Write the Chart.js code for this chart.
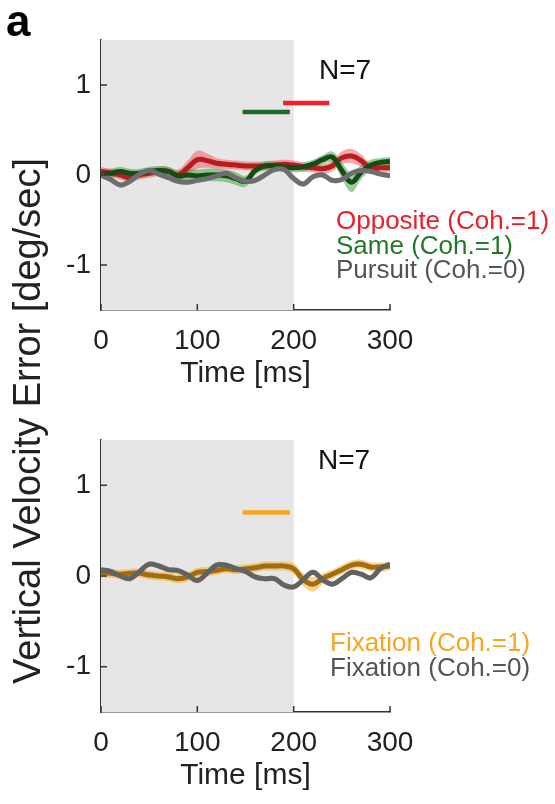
<!DOCTYPE html>
<html lang="en">
<head>
    <meta charset="UTF-8">
    <title>Vertical Velocity Error</title>
    <style>
        body {
            margin: 0;
            background-color: #fff;
            font-family: "Liberation Sans", Arial, sans-serif;
        }
        .page {
            position: relative;
            width: 555px;
            height: 804px;
            overflow: hidden;
        }
        .panel {
            position: absolute;
            left: 0;
            width: 555px;
        }
        .txt {
            position: absolute;
            white-space: nowrap;
            font-size: 26px;
            line-height: 1;
        }
        #yTitle {
            position: absolute;
            left: 27px;
            top: 421px;
            font-size: 38px;
            color: #222;
            white-space: nowrap;
            transform: translate(-50%, -50%) rotate(-90deg);
        }
    </style>
</head>
<body>
    <div class="page">
        <div class="panel" style="top:0;height:400px"><canvas id="topChart" width="555" height="400"></canvas></div>
        <div class="panel" style="top:400px;height:404px"><canvas id="bottomChart" width="555" height="404"></canvas></div>

        <div class="txt" style="left:6px;top:-1px;font-size:44px;font-weight:bold;color:#000">a</div>
        <div id="yTitle">Vertical Velocity Error [deg/sec]</div>

        <div class="txt" style="left:319px;top:56px;font-size:28px;color:#111">N=7</div>
        <div class="txt" style="left:336px;top:207px;color:#e8202a">Opposite (Coh.=1)</div>
        <div class="txt" style="left:336px;top:232px;color:#23782b">Same (Coh.=1)</div>
        <div class="txt" style="left:336px;top:256px;color:#555">Pursuit (Coh.=0)</div>

        <div class="txt" style="left:318px;top:446px;font-size:28px;color:#111">N=7</div>
        <div class="txt" style="left:330px;top:629px;color:#f5a623">Fixation (Coh.=1)</div>
        <div class="txt" style="left:330px;top:654px;color:#555">Fixation (Coh.=0)</div>
    </div>

    <script src="https://cdn.jsdelivr.net/npm/chart.js"></script>

    <script>
        // time axis (ms), one sample every 10 ms
        const times = [0, 10, 20, 30, 40, 50, 60, 70, 80, 90, 100, 110, 120, 130, 140, 150,
                       160, 170, 180, 190, 200, 210, 220, 230, 240, 250, 260, 270, 280, 290, 300];

        const xTickVals = [0, 100, 200, 300];
        const yTickVals = [-1, 0, 1];
        const shadeRange = [0, 200];

        // top panel: pursuit conditions
        const oppositeMean = [0.04, 0.02, 0.00, -0.03, 0.00, 0.02, 0.04, 0.04, 0.00, 0.08, 0.17,
                              0.16, 0.13, 0.12, 0.11, 0.10, 0.10, 0.10, 0.11, 0.12, 0.11,
                              0.09, 0.08, 0.07, 0.10, 0.19, 0.21, 0.16, 0.07, 0.08, 0.08];
        const oppositeSpread = [0.05, 0.05, 0.05, 0.05, 0.05, 0.05, 0.05, 0.05, 0.06, 0.08, 0.10,
                                0.08, 0.06, 0.05, 0.05, 0.05, 0.05, 0.05, 0.05, 0.05, 0.05,
                                0.05, 0.05, 0.05, 0.06, 0.07, 0.08, 0.07, 0.06, 0.05, 0.05];

        const sameMean = [0.01, 0.02, 0.04, 0.02, 0.02, 0.04, 0.05, 0.04, -0.01, 0.00, -0.01,
                          0.00, 0.00, -0.01, -0.04, -0.07, 0.05, 0.10, 0.10, 0.09, 0.08,
                          0.09, 0.12, 0.17, 0.20, 0.05, -0.08, 0.03, 0.11, 0.14, 0.15];
        const sameSpread = [0.05, 0.05, 0.05, 0.05, 0.05, 0.05, 0.05, 0.05, 0.06, 0.07, 0.07,
                            0.07, 0.07, 0.07, 0.07, 0.06, 0.05, 0.05, 0.05, 0.05, 0.05,
                            0.05, 0.05, 0.05, 0.06, 0.09, 0.11, 0.08, 0.06, 0.05, 0.05];

        const pursuitMean = [0.00, -0.05, -0.11, -0.07, 0.01, 0.05, 0.01, -0.03, -0.07, -0.08, -0.06,
                             -0.04, -0.01, 0.02, -0.03, -0.07, -0.06, 0.00, 0.06, 0.06, -0.04,
                             -0.10, -0.02, 0.00, -0.06, -0.05, 0.02, 0.05, 0.04, 0.01, -0.01];
        const pursuitSpread = [0.03, 0.03, 0.03, 0.03, 0.03, 0.03, 0.03, 0.03, 0.03, 0.03, 0.03,
                               0.03, 0.03, 0.03, 0.03, 0.03, 0.03, 0.03, 0.03, 0.03, 0.03,
                               0.03, 0.03, 0.03, 0.03, 0.03, 0.03, 0.03, 0.03, 0.03, 0.03];

        // bottom panel: fixation conditions
        const fixCoh1Mean = [0.04, 0.03, 0.02, 0.03, 0.03, 0.01, 0.00, -0.01, -0.03, -0.01, 0.04,
                             0.05, 0.06, 0.08, 0.07, 0.08, 0.09, 0.11, 0.11, 0.11, 0.08,
                             -0.04, -0.09, -0.03, 0.02, 0.07, 0.12, 0.13, 0.10, 0.10, 0.11];
        const fixCoh1Spread = [0.05, 0.05, 0.05, 0.05, 0.05, 0.05, 0.05, 0.05, 0.05, 0.05, 0.05,
                               0.05, 0.05, 0.05, 0.05, 0.05, 0.05, 0.05, 0.05, 0.05, 0.06,
                               0.07, 0.08, 0.06, 0.05, 0.05, 0.05, 0.05, 0.05, 0.05, 0.05];

        const fixCoh0Mean = [0.07, 0.05, 0.00, -0.03, 0.05, 0.13, 0.11, 0.07, 0.06, 0.01, -0.05,
                             0.03, 0.12, 0.12, 0.08, 0.05, -0.01, -0.03, -0.03, -0.10, -0.12,
                             -0.04, 0.04, -0.04, -0.09, -0.03, 0.04, 0.02, -0.02, 0.08, 0.13];
        const fixCoh0Spread = [0.03, 0.03, 0.03, 0.03, 0.03, 0.03, 0.03, 0.03, 0.03, 0.03, 0.03,
                               0.03, 0.03, 0.03, 0.03, 0.03, 0.03, 0.03, 0.03, 0.03, 0.03,
                               0.03, 0.03, 0.03, 0.03, 0.03, 0.03, 0.03, 0.03, 0.03, 0.03];

        // significance bars: [start ms, end ms, level]
        const sameSigBar = [147, 196, 0.7];
        const oppositeSigBar = [189, 237, 0.8];
        const fixationSigBar = [147, 196, 0.7];

        function pts(values) {
            return times.map((t, i) => ({ x: t, y: values[i] }));
        }
        function edge(mean, spread, sign) {
            return times.map((t, i) => ({ x: t, y: mean[i] + sign * spread[i] }));
        }
        function bandSets(mean, spread, color, order) {
            return [
                { data: edge(mean, spread, 1), borderWidth: 0, pointRadius: 0, tension: 0.4,
                  backgroundColor: color, fill: '+1', order: order },
                { data: edge(mean, spread, -1), borderWidth: 0, pointRadius: 0, tension: 0.4,
                  backgroundColor: color, fill: false, order: order }
            ];
        }
        function lineSet(mean, color, width, order) {
            return { data: pts(mean), borderColor: color, borderWidth: width, pointRadius: 0,
                     tension: 0.4, fill: false, order: order };
        }
        function barSet(bar, color) {
            return { data: [{ x: bar[0], y: bar[2] }, { x: bar[1], y: bar[2] }], borderColor: color,
                     borderWidth: 4.5, pointRadius: 0, fill: false, order: 0 };
        }

        // grey stimulus window behind the traces
        const shadePlugin = {
            id: 'shade',
            beforeDatasetsDraw(chart) {
                const { ctx, chartArea, scales } = chart;
                const x0 = scales.x.getPixelForValue(shadeRange[0]);
                const x1 = scales.x.getPixelForValue(shadeRange[1]);
                ctx.save();
                ctx.fillStyle = '#e6e6e6';
                ctx.fillRect(x0, chartArea.top, x1 - x0, chartArea.bottom - chartArea.top);
                ctx.restore();
            }
        };

        // matlab style tick marks pointing into the axes
        const inTicks = {
            id: 'inTicks',
            afterDraw(chart) {
                const { ctx, chartArea, scales } = chart;
                ctx.save();
                ctx.strokeStyle = '#333';
                ctx.lineWidth = 1.5;
                ctx.beginPath();
                xTickVals.forEach(v => {
                    const px = scales.x.getPixelForValue(v);
                    ctx.moveTo(px, chartArea.bottom);
                    ctx.lineTo(px, chartArea.bottom - 6);
                });
                yTickVals.forEach(v => {
                    const py = scales.y.getPixelForValue(v);
                    ctx.moveTo(chartArea.left, py);
                    ctx.lineTo(chartArea.left + 6, py);
                });
                ctx.stroke();
                ctx.restore();
            }
        };

        function makeChart(id, datasets, xAxisHeight, titlePad) {
            const tickFont = { family: '"Liberation Sans", Arial, sans-serif', size: 28 };
            return new Chart(document.getElementById(id), {
                type: 'line',
                data: { datasets: datasets },
                options: {
                    responsive: false,
                    animation: false,
                    layout: { padding: { left: 0, right: 165, top: 40, bottom: 0 } },
                    plugins: { legend: { display: false }, tooltip: { enabled: false } },
                    scales: {
                        x: {
                            type: 'linear', min: 0, max: 300,
                            grid: { display: false, drawTicks: false },
                            border: { display: true, color: '#333', width: 1.5 },
                            afterBuildTicks: s => { s.ticks = xTickVals.map(v => ({ value: v })); },
                            afterFit: s => { s.height = xAxisHeight; },
                            ticks: { color: '#222', font: tickFont, padding: 14, maxRotation: 0 },
                            title: { display: true, text: 'Time [ms]', color: '#222',
                                     font: { family: '"Liberation Sans", Arial, sans-serif', size: 30 },
                                     padding: { top: 0, bottom: titlePad } }
                        },
                        y: {
                            min: -1.5, max: 1.5,
                            grid: { display: false, drawTicks: false },
                            border: { display: true, color: '#333', width: 1.5 },
                            afterBuildTicks: s => { s.ticks = yTickVals.map(v => ({ value: v })); },
                            afterFit: s => { s.width = 101; },
                            ticks: { color: '#222', font: tickFont, padding: 10 }
                        }
                    }
                },
                plugins: [shadePlugin, inTicks]
            });
        }

        const topSets = []
            .concat(bandSets(oppositeMean, oppositeSpread, 'rgba(240, 95, 95, 0.55)', 16))
            .concat(bandSets(sameMean, sameSpread, 'rgba(70, 165, 70, 0.55)', 15))
            .concat(bandSets(pursuitMean, pursuitSpread, 'rgba(170, 170, 170, 0.5)', 14))
            .concat([
                lineSet(oppositeMean, '#b71c22', 5, 3),
                lineSet(sameMean, '#174a17', 5, 2),
                lineSet(pursuitMean, '#6e6e6e', 5, 1),
                barSet(sameSigBar, '#1e6b2a'),
                barSet(oppositeSigBar, '#ee2028')
            ]);

        const bottomSets = []
            .concat(bandSets(fixCoh1Mean, fixCoh1Spread, 'rgba(248, 182, 50, 0.6)', 15))
            .concat(bandSets(fixCoh0Mean, fixCoh0Spread, 'rgba(175, 175, 175, 0.5)', 14))
            .concat([
                lineSet(fixCoh1Mean, '#a06d17', 5, 2),
                lineSet(fixCoh0Mean, '#626262', 5, 1),
                barSet(fixationSigBar, '#f5a81e')
            ]);

        makeChart('topChart', topSets, 90, 8);
        makeChart('bottomChart', bottomSets, 92, 10);
    </script>
</body>
</html>
